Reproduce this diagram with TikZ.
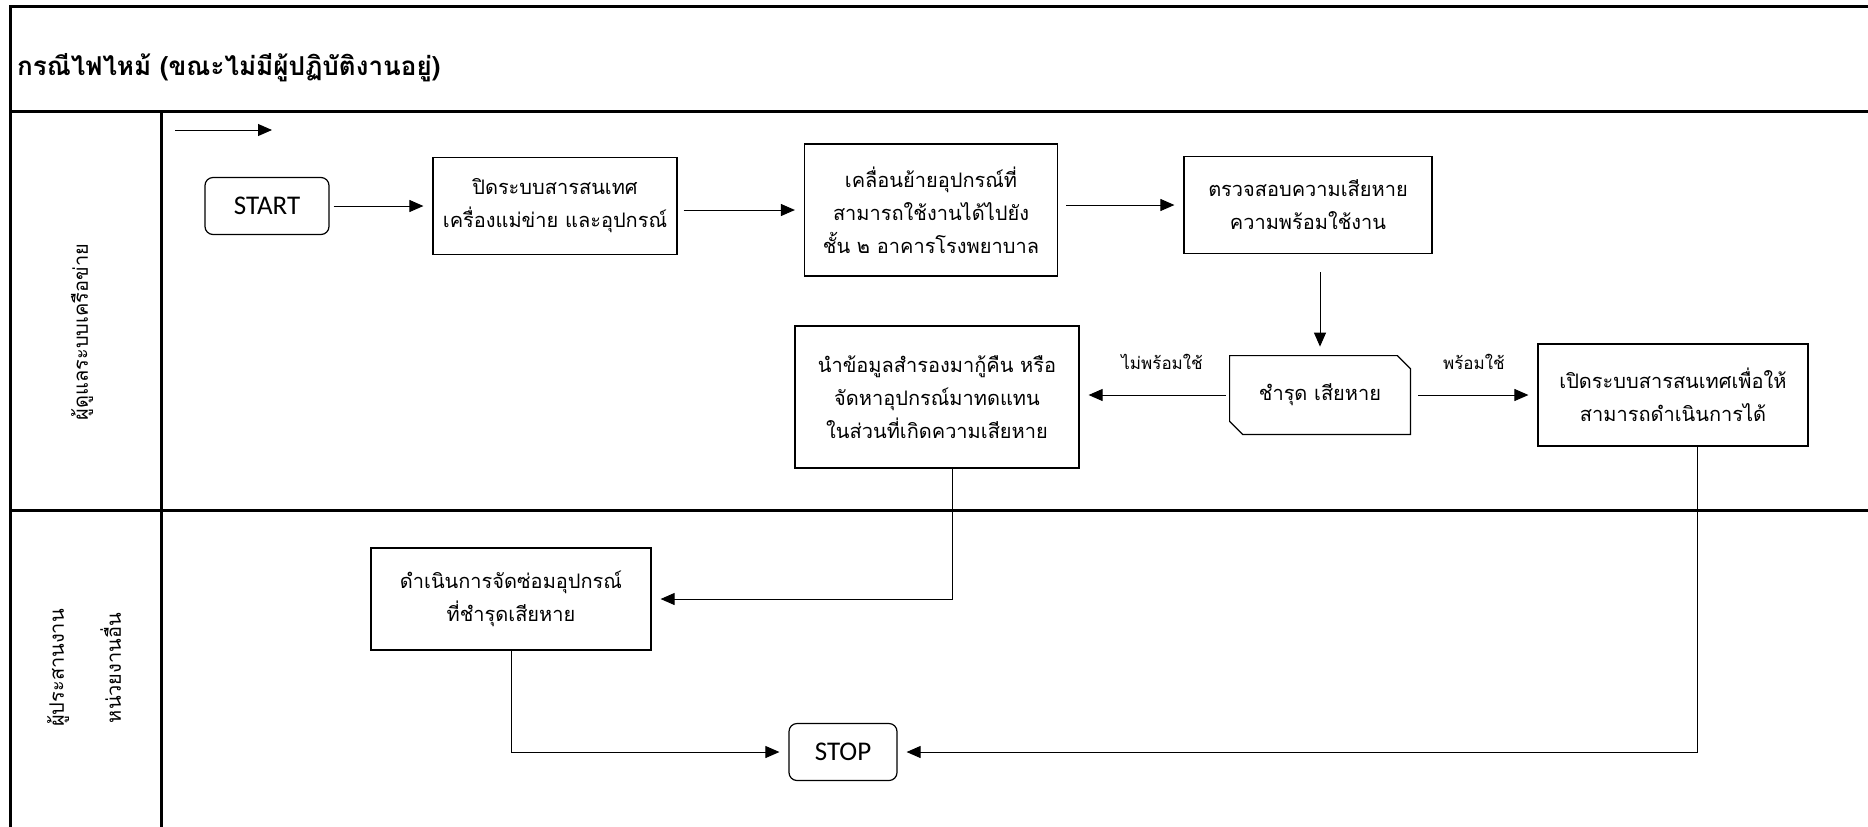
\documentclass[tikz,border=0pt]{standalone}
\usepackage{fontspec}
\setmainfont{Carlito}
\newfontfamily\thaifont[Script=Thai]{Loma}
\usetikzlibrary{arrows.meta,positioning,calc}

\begin{document}
\begin{tikzpicture}[
    x=0.5pt, y=-0.5pt,
    frame/.style={line width=1.5pt},
    process/.style={rectangle, draw, line width=0.6pt, align=center, inner sep=2pt, font=\thaifont\fontsize{10}{16.5}\selectfont},
    terminal/.style={rectangle, draw, rounded corners=4pt, line width=0.6pt, minimum width=62pt, minimum height=28.5pt, font=\fontsize{13.5}{16}\selectfont},
    card/.style={rectangle, align=center, minimum width=90pt, minimum height=39pt, font=\thaifont\fontsize{10}{16.5}\selectfont},
    lane/.style={rotate=90, align=center, font=\thaifont\fontsize{10}{28.5}\selectfont},
    branch/.style={font=\thaifont\fontsize{8.5}{10}\selectfont},
    arrow/.style={-{Triangle[length=7pt,width=6pt]}, line width=0.5pt, shorten >=4.5pt}
]
\useasboundingbox (0,0) rectangle (1868,826);

% swimlane frame
\draw[frame] (10,840) -- (10,6) -- (1880,6);
\draw[frame] (10,111) -- (1880,111);
\draw[frame] (10,510) -- (1880,510);
\draw[frame] (161,111) -- (161,840);

\node[anchor=west, font=\thaifont\bfseries\fontsize{13}{16}\selectfont] (title) at (10,68) {กรณีไฟไหม้ (ขณะไม่มีผู้ปฏิบัติงานอยู่)};
\node[lane] (lanenet) at (82,332) {ผู้ดูแลระบบเครือข่าย};
\node[lane] (laneco) at (84,668) {ผู้ประสานงาน\\หน่วยงานอื่น};

% flow direction
\coordinate (keyA) at (175,130);
\coordinate (keyB) at (272,130);
\draw[arrow, shorten >=0pt] (keyA) -- (keyB);

\node[terminal] (start) at (267,206) {START};
\node[process, minimum width=122pt, minimum height=48.5pt] (sysoff) at (555,206) {ปิดระบบสารสนเทศ\\เครื่องแม่ข่าย และอุปกรณ์};
\node[process, minimum width=126.5pt, minimum height=66pt] (move) at (931,210) {เคลื่อนย้ายอุปกรณ์ที่\\สามารถใช้งานได้ไปยัง\\ชั้น ๒ อาคารโรงพยาบาล};
\node[process, minimum width=124pt, minimum height=48.5pt] (check) at (1308,205) {ตรวจสอบความเสียหาย\\ความพร้อมใช้งาน};
\node[card] (damage) at (1320,395) {ชำรุด เสียหาย};
\node[process, minimum width=142pt, minimum height=71pt] (restore) at (937,397) {นำข้อมูลสำรองมากู้คืน หรือ\\จัดหาอุปกรณ์มาทดแทน\\ในส่วนที่เกิดความเสียหาย};
\node[process, minimum width=135pt, minimum height=51pt] (open) at (1673,395) {เปิดระบบสารสนเทศเพื่อให้\\สามารถดำเนินการได้};
\node[process, minimum width=140pt, minimum height=51pt] (repair) at (511,599) {ดำเนินการจัดซ่อมอุปกรณ์\\ที่ชำรุดเสียหาย};
\node[terminal, minimum width=54pt] (stop) at (843,752) {STOP};

% card outline with two cut corners
\draw[line width=0.6pt] (damage.north west) -- ([xshift=-6.5pt]damage.north east) -- ([yshift=-6.5pt]damage.north east)
    -- (damage.south east) -- ([xshift=6.5pt]damage.south west) -- ([yshift=6.5pt]damage.south west) -- cycle;

\draw[arrow, shorten <=2pt] (start) -- (sysoff);
\draw[arrow, shorten <=3pt] (move.west -| sysoff.east) -- (move.west);
\draw[arrow, shorten <=4pt] (move.east |- check.west) -- (check.west);
\draw[arrow, shorten <=9pt] (damage.north |- check.south) -- (damage.north);
\draw[arrow, shorten <=2pt] (damage.west) -- node[branch, above=9pt, pos=0.45] {ไม่พร้อมใช้} (damage.west -| restore.east);
\draw[arrow, shorten <=4pt] (damage.east) -- node[branch, above=9pt] {พร้อมใช้} (damage.east -| open.west);
\draw[arrow] ([xshift=7.5pt]restore.south) |- (repair.east);
\draw[arrow] (repair.south) |- (stop.west);
\draw[arrow] ([xshift=12pt]open.south) |- (stop.east);

\end{tikzpicture}
\end{document}
